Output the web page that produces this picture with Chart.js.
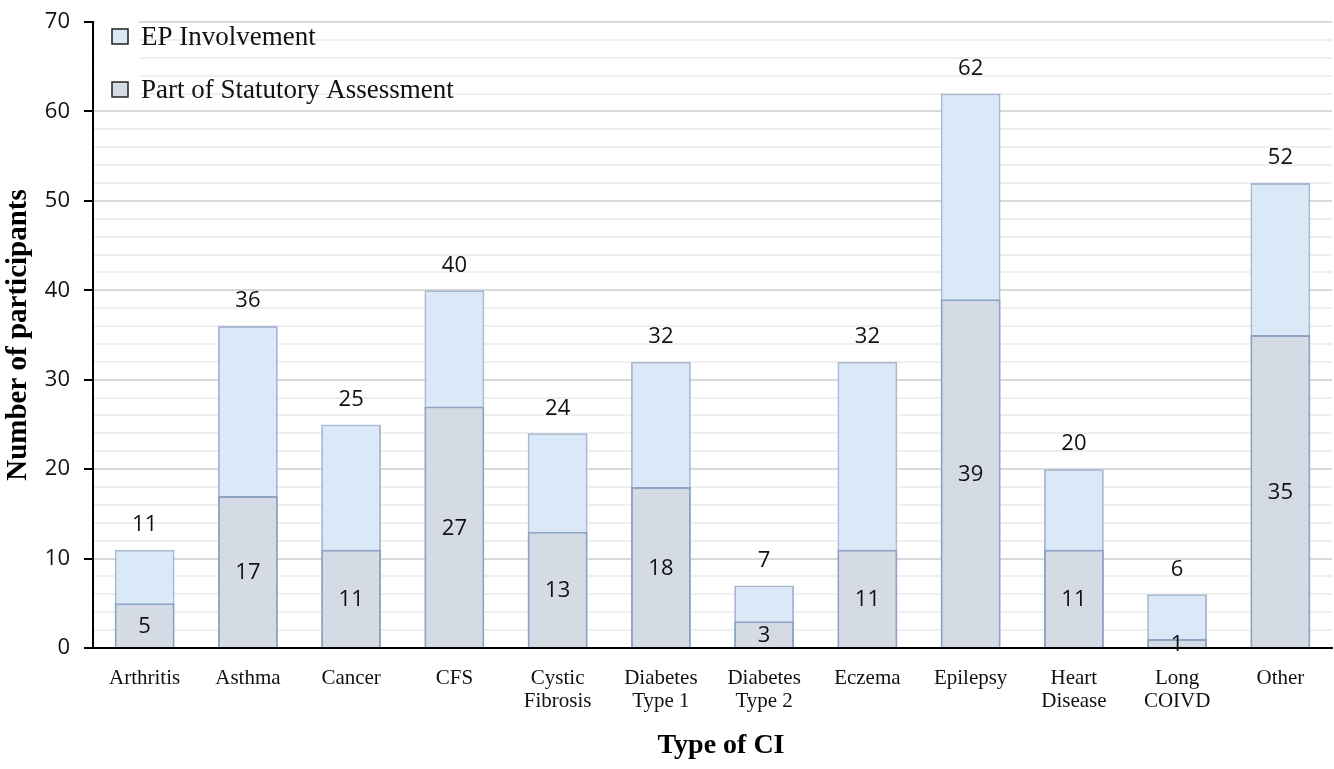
<!DOCTYPE html>
<html>
<head>
<meta charset="utf-8">
<script src="https://cdn.jsdelivr.net/npm/chart.js@4/dist/chart.umd.min.js"></script>
<style>
  html, body { margin: 0; padding: 0; background: #ffffff; }
  #wrap { width: 1334px; height: 769px; position: relative; }
</style>
</head>
<body>
<div id="wrap"><canvas id="c" width="1334" height="769"></canvas></div>
<script>
// Types of chronic illness (CI)
const categories = [
  'Arthritis', 'Asthma', 'Cancer', 'CFS', ['Cystic', 'Fibrosis'],
  ['Diabetes', 'Type 1'], ['Diabetes', 'Type 2'], 'Eczema', 'Epilepsy',
  ['Heart', 'Disease'], ['Long', 'COIVD'], 'Other'
];
// Number of participants reporting EP involvement
const epInvolvement = [11, 36, 25, 40, 24, 32, 7, 32, 62, 20, 6, 52];
// Of which, part of statutory assessment
const statutory = [5, 17, 11, 27, 13, 18, 3, 11, 39, 11, 1, 35];
const yTicks = [0, 10, 20, 30, 40, 50, 60, 70];

const seriesNames = ['EP Involvement', 'Part of Statutory Assessment'];
const epFill = '#dbe8f7', epBorder = '#a9b9d2';
const stFill = '#d5dbe5', stBorder = '#8fa4c3';
const serif = '"Liberation Serif", "Times New Roman", serif';
const sans = '"Open Sans", sans-serif';

// Value labels: totals above the light bars, statutory counts centred in the grey bars
const valueLabels = {
  id: 'valueLabels',
  afterDatasetsDraw(chart) {
    const { ctx, scales: { x, y } } = chart;
    ctx.save();
    ctx.font = '22px ' + sans;
    ctx.fillStyle = '#111111';
    ctx.textAlign = 'center';
    ctx.textBaseline = 'middle';
    categories.forEach((c, i) => {
      const cx = x.getPixelForValue(i);
      ctx.fillText(String(epInvolvement[i]), cx, y.getPixelForValue(epInvolvement[i]) - 25);
      ctx.fillText(String(statutory[i]), cx, y.getPixelForValue(statutory[i] / 2) + 1);
    });
    ctx.restore();
  }
};

// Legend in the upper-left corner of the plot
const cornerLegend = {
  id: 'cornerLegend',
  afterDraw(chart) {
    const { ctx, chartArea } = chart;
    ctx.save();
    ctx.fillStyle = '#ffffff';
    ctx.fillRect(chartArea.left + 2, chartArea.top - 6, 44, 86);
    const items = [
      { name: seriesNames[0], fill: epFill, y: 37 },
      { name: seriesNames[1], fill: stFill, y: 90 }
    ];
    ctx.font = '27px ' + serif;
    ctx.textBaseline = 'middle';
    ctx.textAlign = 'left';
    items.forEach(it => {
      ctx.fillStyle = it.fill;
      ctx.fillRect(112, it.y - 8, 16, 15);
      ctx.strokeStyle = '#222222';
      ctx.lineWidth = 1.5;
      ctx.strokeRect(112, it.y - 8, 16, 15);
      ctx.fillStyle = '#111111';
      ctx.fillText(it.name, 141, it.y + 1);
    });
    ctx.restore();
  }
};

// Horizontal axis title, centred under the category labels
const xTitle = {
  id: 'xTitle',
  afterDraw(chart) {
    const { ctx } = chart;
    ctx.save();
    ctx.font = 'bold 28px ' + serif;
    ctx.fillStyle = '#000000';
    ctx.textAlign = 'center';
    ctx.textBaseline = 'middle';
    ctx.fillText('Type of CI', 721, 746);
    ctx.restore();
  }
};

new Chart(document.getElementById('c'), {
  type: 'bar',
  data: {
    labels: categories,
    datasets: [
      {
        label: seriesNames[1],
        data: statutory,
        backgroundColor: stFill,
        borderColor: stBorder,
        borderWidth: 2,
        grouped: false,
        order: 0,
        categoryPercentage: 1,
        barPercentage: 0.58
      },
      {
        label: seriesNames[0],
        data: epInvolvement,
        backgroundColor: epFill,
        borderColor: epBorder,
        borderWidth: 2,
        grouped: false,
        order: 1,
        categoryPercentage: 1,
        barPercentage: 0.58
      }
    ]
  },
  options: {
    responsive: false,
    animation: false,
    devicePixelRatio: 1,
    layout: { padding: { top: 22, right: 2, left: 0, bottom: 0 } },
    plugins: {
      legend: { display: false },
      tooltip: { enabled: false }
    },
    scales: {
      x: {
        grid: { display: false, drawTicks: false },
        border: { display: true, color: '#000000', width: 2 },
        ticks: {
          color: '#111111',
          padding: 19,
          maxRotation: 0,
          autoSkip: false,
          font: { family: serif, size: 21, lineHeight: 1.08 }
        },
        afterFit(scale) { scale.height = 121; }
      },
      y: {
        min: 0,
        max: 70,
        afterBuildTicks(scale) {
          const t = [];
          for (let v = 0; v <= 70; v += 2) t.push({ value: v });
          scale.ticks = t;
        },
        grid: {
          color: ctx => (ctx.tick && ctx.tick.value % 10 === 0) ? '#d9d9d9' : '#efefef',
          lineWidth: 2,
          tickColor: ctx => (ctx.tick && ctx.tick.value % 10 === 0) ? '#000000' : 'rgba(0,0,0,0)',
          tickLength: 9,
          tickWidth: 2
        },
        border: { display: true, color: '#000000', width: 2 },
        ticks: {
          color: '#111111',
          padding: 14,
          autoSkip: false,
          callback: v => yTicks.includes(v) ? String(v) : '',
          font: { family: sans, size: 22 }
        },
        title: {
          display: true,
          text: 'Number of participants',
          color: '#000000',
          padding: { top: 1, bottom: 0 },
          font: { family: serif, size: 29, weight: 'bold', lineHeight: 1.2 }
        },
        afterFit(scale) {
          scale.width = 93;
          scale.paddingTop = 0;
          scale.paddingBottom = 0;
        }
      }
    }
  },
  plugins: [valueLabels, cornerLegend, xTitle]
});
</script>
</body>
</html>
